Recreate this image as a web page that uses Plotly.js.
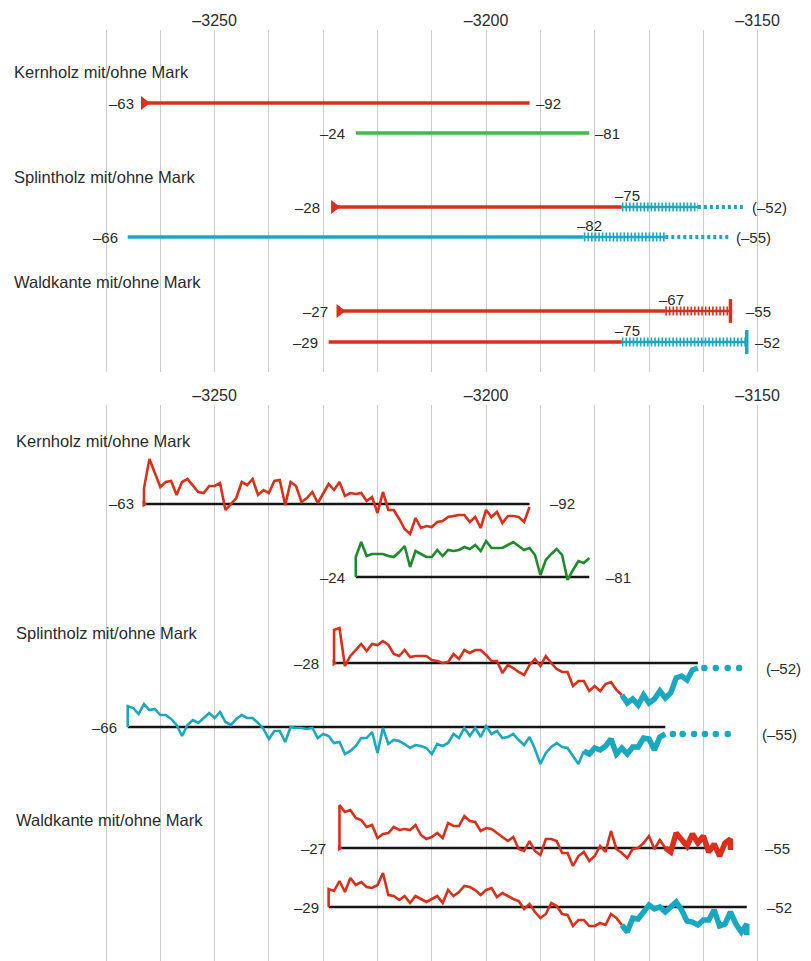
<!DOCTYPE html>
<html><head><meta charset="utf-8">
<script src="https://cdn.plot.ly/plotly-3.0.1.min.js"></script>
<style>html,body{margin:0;padding:0;background:#fff}</style>
</head><body><div id="chart" style="width:811px;height:961px"></div>
<script>
// ================= DATA =================
const tickYears = [-3270,-3260,-3250,-3240,-3230,-3220,-3210,-3200,-3190,-3180,-3170,-3160,-3150];
const tickLabels = ['','','–3250','','','','','–3200','','','','','–3150'];

const groupTitles = ['Kernholz mit/ohne Mark','Splintholz mit/ohne Mark','Waldkante mit/ohne Mark'];

// upper panel: time spans of the six samples (years BC, negative)
const spanStart    = [-3263, -3224, -3228, -3266, -3227, -3229];
const heartEnd     = [-3192, -3181, -3175, -3182, -3167, -3175];   // end of heartwood / solid part
const sapEnd       = [null,  null,  -3161, -3167, -3155, -3152];   // end of preserved sapwood
const estEnd       = [null,  null,  -3152.5, -3155.3, null, null]; // estimated (missing) sapwood
const withPith     = [true, false, true, false, true, false];
const withBark     = [false,false,false,false,true, true];
const startLabels  = ['–63','–24','–28','–66','–27','–29'];
const midLabels    = ['','','–75','–82','–67','–75'];
const endLabels    = ['–92','–81','(–52)','(–55)','–55','–52'];

// lower panel: ring-width curves (deviation from each sample's baseline)
const curve1Start = -3263;
const curve1 = [16,45,30,17,22,23,9,22,25,19, 12,11,18,18,21,-6,0,6,22,19, 25,9,14,11,23,24,-1,22,18,2,
  6,12,1,11,20,14,22,8,11,10, 11,3,7,-9,12,-6,-6,-15,-25,-30, -14,-24,-22,-23,-18,-17,-13,-12,-11,-11,
  -18,-13,-24,-6,-13,-8,-19,-12,-12,-13, -18,-3];

const curve2Start = -3224;
const curve2 = [20,35,21,23,23,23,21,20,25,31, 10,26,23,20,20,27,21,27,26,27, 30,28,32,26,36,29,29,29,32,35,
  31,27,29,22,2,17,23,28,22,-3, 7,16,14,19];

const curve3Start = -3228;
const curve3 = [33,35,-3,7,13,19,12,19,18,22, 18,9,7,13,6,7,7,7,3,2, 0,1,9,4,13,10,13,13,8,2,
  2,-10,-2,-5,-9,-12,-2,4,-3,7, 0,-6,-9,-9,-23,-18,-18,-28,-23,-28, -21,-19,-27,-32];
const curve3SapStart = -3175;
const curve3Sap = [-32,-40,-36,-42,-32,-40,-36,-28,-35,-30,-15,-13,-17,-7,-5];
const curve3EstYears = [-3159.8,-3157.7,-3155.5,-3153.4];
const curve3EstLevel = -5;

const curve4Start = -3266;
const curve4 = [21,19,13,23,17,18,12,12,8,2, -9,2,7,4,9,14,9,15,5,2, 8,12,9,9,4,-2,-12,-4,-4,-15,
  0,-1,-1,-2,-1,-11,-7,-9,-16,-15, -27,-24,-19,-11,-11,-5,-26,-1,-17,-13, -14,-17,-21,-18,-19,-21,-27,-17,-19,-16,
  -7,-11,-1,-9,-1,-10,1,-7,-4,-11, -10,-7,-13,-18,-10,-22,-37,-26,-20,-16, -20,-21,-29,-37,-24];
const curve4SapStart = -3182;
const curve4Sap = [-24,-27,-21,-23,-19,-12,-27,-21,-27,-20,-20,-11,-12,-23,-10,-7];
const curve4EstYears = [-3165.6,-3163.8,-3161.7,-3159.7,-3157.7,-3155.5];
const curve4EstLevel = -7;

const curve5Start = -3227;
const curve5 = [43,36,38,30,28,21,23,10,14,15, 21,18,19,18,23,13,9,11,15,10, 25,22,22,32,27,26,17,20,19,15,
  11,7,11,-1,-3,7,-3,-7,9,9, 7,-5,-5,-18,-8,-4,-13,-8,2,-4, 17,-1,-5,-10,-1,0,5,12,-1,8, 0];
const curve5SapStart = -3167;
const curve5Sap = [0,-4,15,8,2,14,5,12,-4,4,-8,5,9];
const curve5LastDrop = -2;

const curve6Start = -3229;
const curve6 = [18,16,26,15,29,22,25,20,19,22, 34,12,11,7,11,4,11,8,5,8, 11,4,17,11,15,21,20,17,12,17,
  19,10,14,11,8,6,-2,3,-5,-11, -7,4,1,-7,-8,-19,-13,-13,-19,-19, -16,-18,-7,-11,-18];
const curve6SapStart = -3175;
const curve6Sap = [-18,-25,-11,-12,-5,2,-2,0,-5,0,5,-3,-14,-15,-18,-13,-13,-3,-19,-17,-5,-17,-25,-17];
const curve6LastDrop = -28;

const baseEnd = [-3192, -3181, -3161, -3167, -3159, -3152];

// ================= STYLE / LAYOUT =================
const W = 811, H = 961;
const RED = '#d92f1b', GREEN_T = '#3fba4c', GREEN_B = '#1e8a2c', CYAN = '#19a8bf', BLACK = '#151515';
const TXT = '#2b2b2b';
const FONT = 'Liberation Sans, Arial, Helvetica, sans-serif';
const PX_PER_YEAR = 5.43, PX_AT_FIRST_TICK = 106;
const X0 = tickYears[0] - PX_AT_FIRST_TICK / PX_PER_YEAR;
const X1 = X0 + W / PX_PER_YEAR;

// upper panel: pixel-like vertical units
const TOP_TOP = 30, TOP_BOT = 372;
const topRowY = [103, 133, 207, 237, 311, 342];
const topSolidColor = [RED, GREEN_T, RED, CYAN, RED, RED];
const topSapColor = [null, null, CYAN, CYAN, RED, CYAN];
const topLeftShift = [-8, -9, -12, -8, -9, -9];
const topRightShift = [4, 4, 6, 5, 14, 6];

// lower panel
const BOT_TOP = 405, BOT_BOT = H;
const base = [504, 577, 663, 727, 848, 907];
const botThinColor = [RED, GREEN_B, RED, CYAN, RED, RED];
const botSapColor = [null, null, CYAN, CYAN, RED, CYAN];
const botLeftShift = [-8, -9, -13, -9, -11, -8];
const botRightX = [-3192, -3181, -3150, -3150, -3150, -3150];
const botRightShift = [18, 15, 6, 2, 5, 7];

const traces = [];
function addLine(xs, ys, color, width, xa, ya, dash) {
  traces.push({type:'scatter', mode:'lines', x:xs, y:ys, xaxis:xa, yaxis:ya,
    line:{color:color, width:width, dash:dash||'solid'}, hoverinfo:'skip', showlegend:false});
}
function addMarkers(xs, ys, symbol, color, size, lw, xa, ya) {
  traces.push({type:'scatter', mode:'markers', x:xs, y:ys, xaxis:xa, yaxis:ya,
    marker:{symbol:symbol, color:color, size:size, line:{color:color, width:lw||0}},
    hoverinfo:'skip', showlegend:false, cliponaxis:false});
}
function yearsFrom(start, n) { const a = []; for (let i = 0; i < n; i++) a.push(start + i); return a; }

const annotations = [];
function txt(x, y, text, xref, yref, xanchor, xshift, yshift, size) {
  annotations.push({x:x, y:y, xref:xref, yref:yref, text:text, showarrow:false,
    xanchor:xanchor, yanchor:'middle', xshift:xshift||0, yshift:yshift||0,
    font:{family:FONT, size:size||15, color:TXT}});
}

// ---- upper panel ----
for (let i = 0; i < 6; i++) {
  const y = topRowY[i];
  addLine([spanStart[i], heartEnd[i]], [y, y], topSolidColor[i], 3.5, 'x', 'y');
  if (sapEnd[i] !== null) {
    addLine([heartEnd[i], sapEnd[i]], [y, y], topSapColor[i], 2.5, 'x', 'y');
    addLine([heartEnd[i], sapEnd[i]], [y, y], topSapColor[i], 9, 'x', 'y', '1.6px,2px');
  }
  if (estEnd[i] !== null) {
    addLine([sapEnd[i], estEnd[i]], [y, y], topSapColor[i], 4, 'x', 'y', '3px,3px');
  }
  if (withPith[i]) addMarkers([spanStart[i]], [y], 'triangle-right', topSolidColor[i], 12, 0, 'x', 'y');
  if (withBark[i]) addMarkers([sapEnd[i]], [y], 'line-ns', topSapColor[i], 17, 3.5, 'x', 'y');
  const last = estEnd[i] !== null ? estEnd[i] : (sapEnd[i] !== null ? sapEnd[i] : heartEnd[i]);
  txt(spanStart[i], y, startLabels[i], 'x', 'y', 'right', topLeftShift[i]);
  txt(last, y, endLabels[i], 'x', 'y', 'left', topRightShift[i]);
  if (midLabels[i]) txt(heartEnd[i], y, midLabels[i], 'x', 'y', 'center', 6, 12);
}

// ---- lower panel ----
const thin = [curve1, curve2, curve3, curve4, curve5, curve6];
const thinStart = [curve1Start, curve2Start, curve3Start, curve4Start, curve5Start, curve6Start];
const sap = [null, null, curve3Sap, curve4Sap, curve5Sap, curve6Sap];
const sapStart = [null, null, curve3SapStart, curve4SapStart, curve5SapStart, curve6SapStart];
const lastDrop = [null, null, null, null, curve5LastDrop, curve6LastDrop];
const estYears = [null, null, curve3EstYears, curve4EstYears, null, null];
const estLevel = [null, null, curve3EstLevel, curve4EstLevel, null, null];

for (let i = 0; i < 6; i++) {
  const b = base[i];
  addLine([thinStart[i], baseEnd[i]], [b, b], BLACK, 2.6, 'x2', 'y2');
}
for (let i = 0; i < 6; i++) {
  const b = base[i];
  const xs = [thinStart[i]].concat(yearsFrom(thinStart[i], thin[i].length));
  const ys = [b].concat(thin[i].map(v => b - v));
  addLine(xs, ys, botThinColor[i], 2.6, 'x2', 'y2');
  if (sap[i]) {
    const sx = yearsFrom(sapStart[i], sap[i].length);
    const sy = sap[i].map(v => b - v);
    if (lastDrop[i] !== null) { sx.push(sx[sx.length - 1]); sy.push(b - lastDrop[i]); }
    addLine(sx, sy, botSapColor[i], 5.5, 'x2', 'y2');
  }
  if (estYears[i]) addMarkers(estYears[i], estYears[i].map(() => b - estLevel[i]), 'circle', botSapColor[i], 6.5, 0, 'x2', 'y2');
  if (withPith[i]) addMarkers([thinStart[i]], [b], 'triangle-right', botThinColor[i], 6, 0, 'x2', 'y2');
  txt(thinStart[i], b, startLabels[i], 'x2', 'y2', 'right', botLeftShift[i]);
  const ry = estLevel[i] !== null ? b - estLevel[i] : b;
  txt(botRightX[i], ry, endLabels[i], 'x2', 'y2', 'left', botRightShift[i]);
}

// ---- group titles ----
const topTitleY = [72, 177, 282];
const botTitleY = [441, 633, 820];
for (let g = 0; g < 3; g++) {
  annotations.push({x:12/W, y:1 - topTitleY[g]/H, xref:'paper', yref:'paper', text:groupTitles[g],
    showarrow:false, xanchor:'left', yanchor:'middle', font:{family:FONT, size:16.5, color:TXT}});
  annotations.push({x:14/W, y:1 - botTitleY[g]/H, xref:'paper', yref:'paper', text:groupTitles[g],
    showarrow:false, xanchor:'left', yanchor:'middle', font:{family:FONT, size:16.5, color:TXT}});
}

const xCommon = {range:[X0, X1], tickmode:'array', tickvals:tickYears, ticktext:tickLabels,
  showgrid:true, gridcolor:'#cdcdcd', gridwidth:1, zeroline:false, showline:false, ticks:'',
  side:'top', tickfont:{family:FONT, size:16, color:TXT}, fixedrange:true};
const yCommon = {showgrid:false, zeroline:false, showline:false, showticklabels:false, ticks:'', fixedrange:true};

const layout = {
  width:W, height:H, autosize:false, margin:{l:0, r:0, t:0, b:0},
  paper_bgcolor:'#ffffff', plot_bgcolor:'rgba(0,0,0,0)', showlegend:false,
  xaxis: Object.assign({}, xCommon, {anchor:'y', domain:[0,1]}),
  yaxis: Object.assign({}, yCommon, {domain:[1 - TOP_BOT/H, 1 - TOP_TOP/H], range:[TOP_BOT, TOP_TOP]}),
  xaxis2: Object.assign({}, xCommon, {anchor:'y2', domain:[0,1]}),
  yaxis2: Object.assign({}, yCommon, {domain:[0, 1 - BOT_TOP/H], range:[BOT_BOT, BOT_TOP]}),
  annotations: annotations
};

Plotly.newPlot('chart', traces, layout, {staticPlot:true, displayModeBar:false});
</script>
</body></html>
